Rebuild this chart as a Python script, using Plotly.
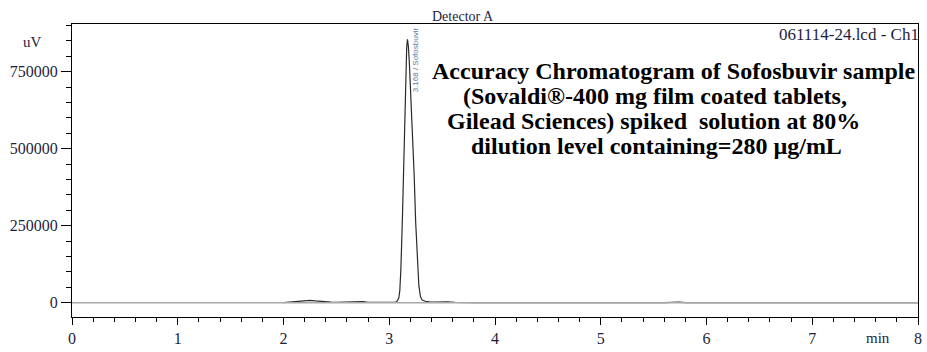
import plotly.graph_objects as go

# Chromatogram signal (time in min, intensity in uV)
time_min = [2.00, 2.05, 2.10, 2.15, 2.20, 2.25, 2.30, 2.35, 2.40, 2.45, 2.50, 2.55,
            2.60, 2.65, 2.70, 2.75, 2.80, 2.90, 3.00, 3.05, 3.07, 3.09, 3.10, 3.11,
            3.125, 3.14, 3.155, 3.165, 3.172, 3.18, 3.19, 3.20, 3.21, 3.22, 3.235,
            3.25, 3.265, 3.28, 3.295, 3.31, 3.34, 3.38, 3.45, 3.50, 3.55, 3.62, 3.70,
            3.80, 5.60, 5.66, 5.70, 5.74, 5.80, 8.00]
signal_uV = [0, 1500, 3500, 6000, 7500, 7500, 5500, 3500, 2000, 1500, 1000, 1500,
             2500, 4000, 4500, 3000, 1000, 0, 0, 800, 3000, 15000, 40000, 110000,
             280000, 500000, 720000, 830000, 855000, 835000, 780000, 700000, 630000, 560000, 420000,
             260000, 130000, 55000, 20000, 9000, 4500, 2500, 2000, 2500, 2500, 1000, 500,
             0, 0, 1500, 2500, 1500, 0, 0]

baseline_x = [0, 8]
baseline_y = [0, 0]

x_ticks = [0, 1, 2, 3, 4, 5, 6, 7, 8]
y_ticks = [0, 250000, 500000, 750000]

peak_time = 3.168
peak_height = 855000
peak_label = "3.168 / Sofosbuvir"

note_lines = [
    "Accuracy Chromatogram of Sofosbuvir sample",
    "(Sovaldi®-400 mg film coated tablets,",
    "Gilead Sciences) spiked  solution at 80%",
    "dilution level containing=280 µg/mL",
]

label_color = "#1e1e3c"
serif = "Times New Roman, Liberation Serif, serif"

fig = go.Figure()
fig.add_trace(go.Scatter(x=time_min, y=signal_uV, mode="lines",
                         line=dict(color="#2a2a2a", width=1.2), hoverinfo="skip"))
fig.add_trace(go.Scatter(x=baseline_x, y=baseline_y, mode="lines",
                         line=dict(color="#a8a8a8", width=1.5), hoverinfo="skip"))

fig.update_layout(
    width=927, height=352,
    margin=dict(l=72, r=5, t=24, b=22),
    paper_bgcolor="white", plot_bgcolor="white",
    showlegend=False,
    font=dict(family=serif, color=label_color, size=14),
    xaxis=dict(range=[0, 8], tickvals=x_ticks, ticktext=[str(v) for v in x_ticks],
               ticks="outside", ticklen=7, tickcolor="black", tickwidth=1,
               minor=dict(dtick=0.2, ticklen=4, ticks="outside", tickcolor="black"),
               showline=True, linecolor="black", linewidth=1, mirror=True,
               showgrid=False, zeroline=False,
               tickfont=dict(family=serif, size=16, color=label_color)),
    yaxis=dict(range=[-46600, 904800], tickvals=y_ticks, ticktext=[str(v) for v in y_ticks],
               ticks="outside", ticklen=10, tickcolor="black", tickwidth=1,
               minor=dict(dtick=50000, ticklen=5, ticks="outside", tickcolor="black"),
               showline=True, linecolor="black", linewidth=1, mirror=True,
               showgrid=False, zeroline=False,
               tickfont=dict(family=serif, size=16, color=label_color)),
)

annotations = [
    dict(text="Detector A", xref="paper", yref="paper", x=0.462, y=1.0,
         xanchor="center", yanchor="bottom", showarrow=False, yshift=-2,
         font=dict(family=serif, size=14, color=label_color)),
    dict(text="061114-24.lcd - Ch1", xref="paper", yref="paper", x=1.0, y=1.0,
         xanchor="right", yanchor="top", showarrow=False, yshift=1, xshift=3,
         font=dict(family=serif, size=17, color=label_color)),
    dict(text="uV", xref="paper", yref="paper", x=-0.033, y=0.94,
         xanchor="right", yanchor="middle", showarrow=False,
         font=dict(family=serif, size=15, color=label_color)),
    dict(text="min", xref="paper", yref="paper", x=0.953, y=0.0,
         xanchor="center", yanchor="top", showarrow=False, yshift=-11,
         font=dict(family=serif, size=15, color=label_color)),
    dict(text=peak_label, x=peak_time, y=peak_height, xref="x", yref="y",
         textangle=-90, xanchor="left", yanchor="top", showarrow=False,
         xshift=2, yshift=14,
         font=dict(family="Liberation Sans, Arial, sans-serif", size=8, color="#5a7aa8")),
]
line_y = [0.84, 0.755, 0.67, 0.585]
line_x = [0.711, 0.689, 0.687, 0.691]
for txt, yy, xx in zip(note_lines, line_y, line_x):
    annotations.append(dict(text="<b>" + txt + "</b>", xref="paper", yref="paper",
                            x=xx, y=yy, xanchor="center", yanchor="middle", showarrow=False,
                            font=dict(family=serif, size=24, color="black")))
fig.update_layout(annotations=annotations)

fig.write_html("out.html")
